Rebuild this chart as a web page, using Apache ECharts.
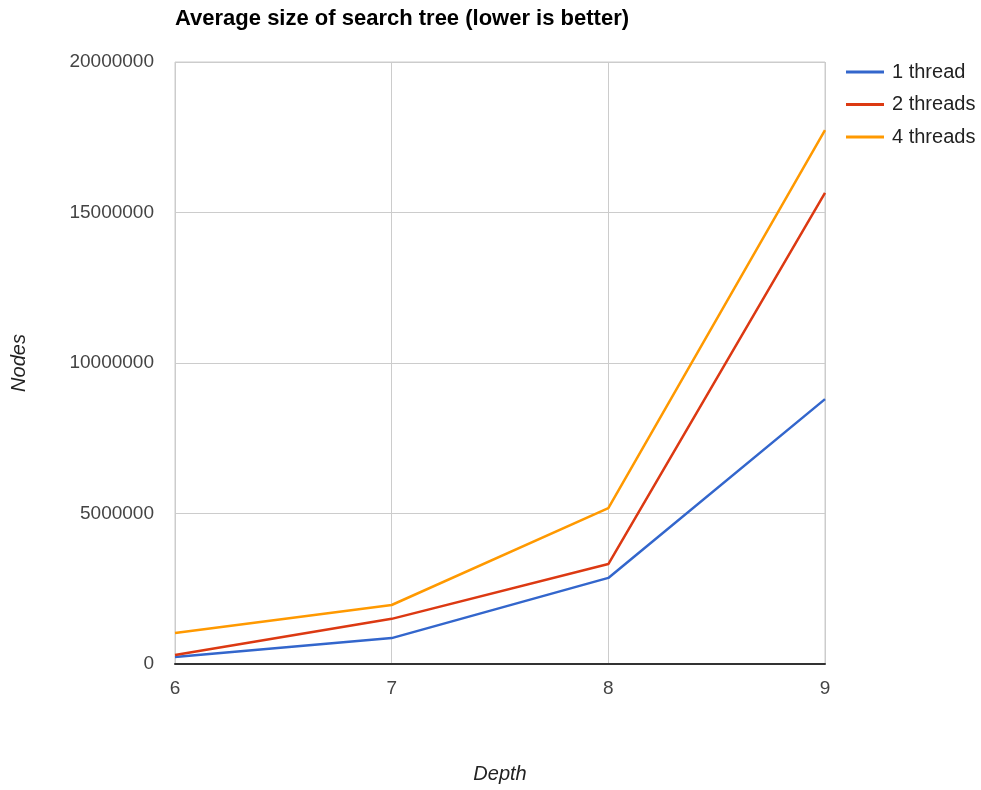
<!DOCTYPE html>
<html>
<head>
<meta charset="utf-8">
<script src="https://cdn.jsdelivr.net/npm/echarts@6/dist/echarts.min.js"></script>
<style>
  html, body { margin: 0; padding: 0; background: #fff; }
  #main { width: 981px; height: 790px; }
</style>
</head>
<body>
<div id="main"></div>
<script>
var chartDom = document.getElementById('main');
var myChart = echarts.init(chartDom);
var option;

// data
var depths = [6, 7, 8, 9];
var oneThread = [230000, 860000, 2860000, 8800000];
var twoThreads = [300000, 1500000, 3320000, 15650000];
var fourThreads = [1030000, 1960000, 5180000, 17740000];
var seriesNames = ['1 thread', '2 threads', '4 threads'];
var colors = ['#3366cc', '#dc3912', '#ff9900'];

function pairs(vals) {
    return depths.map(function (d, i) { return [d, vals[i]]; });
}

function lineSeries(name, vals) {
    return {
        name: name,
        type: 'line',
        data: pairs(vals),
        showSymbol: false,
        symbol: 'none',
        lineStyle: { width: 2.5 },
        emphasis: { disabled: true }
    };
}

option = {
    animation: false,
    color: colors,
    textStyle: { fontFamily: 'Liberation Sans, Arial, sans-serif' },
    title: {
        text: 'Average size of search tree (lower is better)',
        left: 170,
        top: 3,
        textStyle: { fontSize: 22, fontWeight: 'bold', color: '#000' }
    },
    legend: {
        orient: 'vertical',
        left: 841,
        top: 57,
        itemGap: 12.5,
        itemWidth: 38,
        itemHeight: 3,
        icon: 'rect',
        data: seriesNames,
        textStyle: { fontSize: 20, color: '#222', padding: [0, 0, 0, 3] }
    },
    grid: {
        left: 175,
        right: 156,
        top: 62,
        bottom: 126,
        show: true,
        borderColor: '#cccccc',
        borderWidth: 1
    },
    xAxis: {
        type: 'value',
        min: 6,
        max: 9,
        interval: 1,
        name: 'Depth',
        nameLocation: 'middle',
        nameGap: 100,
        nameTextStyle: { fontStyle: 'italic', fontSize: 20, color: '#222' },
        axisLine: { show: true, lineStyle: { color: '#333', width: 2 } },
        axisTick: { show: false },
        axisLabel: { fontSize: 19, color: '#444', margin: 15 },
        splitLine: { show: true, lineStyle: { color: '#cccccc' } }
    },
    yAxis: {
        type: 'value',
        min: 0,
        max: 20000000,
        interval: 5000000,
        name: 'Nodes',
        nameLocation: 'middle',
        nameGap: 146,
        nameTextStyle: { fontStyle: 'italic', fontSize: 20, color: '#222' },
        axisLine: { show: false },
        axisTick: { show: false },
        axisLabel: {
            fontSize: 19,
            color: '#444',
            margin: 21,
            padding: [4, 0, 0, 0],
            formatter: function (v) { return String(v); }
        },
        splitLine: { show: true, lineStyle: { color: '#cccccc' } }
    },
    series: [
        lineSeries(seriesNames[0], oneThread),
        lineSeries(seriesNames[1], twoThreads),
        lineSeries(seriesNames[2], fourThreads)
    ]
};

option && myChart.setOption(option);
</script>
</body>
</html>
